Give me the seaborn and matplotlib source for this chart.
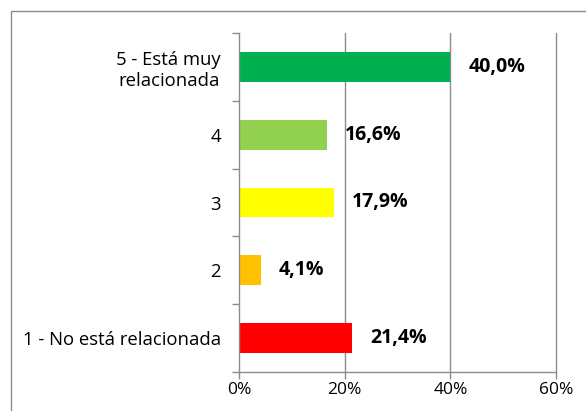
import matplotlib
matplotlib.use("Agg")
import matplotlib.pyplot as plt
import matplotlib.patches as mpatches
from matplotlib.ticker import FixedLocator
import seaborn as sns
import pandas as pd

categories = ["5 - Está muy\nrelacionada", "4", "3", "2", "1 - No está relacionada"]
values = [40.0, 16.6, 17.9, 4.1, 21.4]
colors = ["#00B050", "#92D050", "#FFFF00", "#FFC000", "#FF0000"]
x_ticks = [0, 20, 40, 60]
x_labels = ["0%", "20%", "40%", "60%"]

sns.set_theme(style="white")
plt.rcParams['font.family'] = ['Open Sans', 'DejaVu Sans']

df = pd.DataFrame({"cat": categories, "val": values})

fig = plt.figure(figsize=(5.86, 4.11), dpi=100)
ax = fig.add_axes([239/586, 1-372/411, (556-239)/586, (372-33)/411])

sns.barplot(data=df, y="cat", x="val", hue="cat", palette=colors, order=categories,
            hue_order=categories, legend=False, width=0.44, ax=ax, saturation=1,
            linewidth=0)

grid_c = "#8C8C8C"
ax.set_xlim(0, 60)
ax.set_ylim(4.5, -0.5)
ax.set_xticks(x_ticks)
ax.set_xticklabels(x_labels, fontsize=12.5, color="#000000")
ax.set_xlabel("")
ax.set_ylabel("")
ax.tick_params(axis="y", length=0, labelsize=13.3, pad=13, labelcolor="#000000")
ax.tick_params(axis="x", length=5, width=1, color=grid_c, pad=2, direction="out", bottom=True)
for lab in ax.get_yticklabels():
    lab.set_multialignment("center")
    lab.set_linespacing(1.2)

for xv in x_ticks[1:]:
    ax.axvline(xv, color=grid_c, lw=1, zorder=0, clip_on=False)

# minor ticks at category boundaries on y axis
ax.yaxis.set_minor_locator(FixedLocator([i - 0.5 for i in range(len(categories) + 1)]))
ax.tick_params(axis="y", which="minor", length=5, width=1, color=grid_c, left=True, direction="out")

for s in ["top", "right"]:
    ax.spines[s].set_visible(False)
for s in ["left", "bottom"]:
    ax.spines[s].set_color(grid_c)
    ax.spines[s].set_linewidth(1)

for i, v in enumerate(values):
    ax.annotate(f"{v:.1f}%".replace(".", ","), xy=(v, i), xytext=(13, 0),
                textcoords="offset points", va="center", ha="left",
                fontsize=14, fontweight="bold", color="#000000")

border = mpatches.Rectangle((11/586, -0.2), 1.0, 1.2 - 11/411, transform=fig.transFigure,
                            fill=False, edgecolor="#8C8C8C", lw=1, clip_on=False)
fig.patches.append(border)

fig.savefig("out.png", dpi=100)
